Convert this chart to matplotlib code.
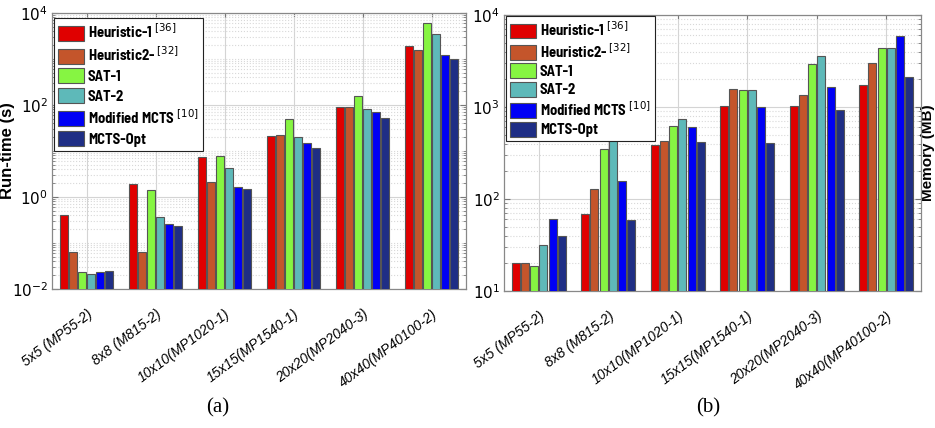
import numpy as np
import matplotlib
matplotlib.use("Agg")
import matplotlib.pyplot as plt
from matplotlib.ticker import LogLocator, NullFormatter, FixedLocator

categories = ["5x5 (MP55-2)", "8x8 (M815-2)", "10x10(MP1020-1)",
              "15x15(MP1540-1)", "20x20(MP2040-3)", "40x40(MP40100-2)"]
methods = ["Heuristic-1 $^{[36]}$", "Heuristic2- $^{[32]}$", "SAT-1", "SAT-2",
           "Modified MCTS $^{[10]}$", "MCTS-Opt"]
colors = ["#E00000", "#C4552B", "#86F542", "#5EB9B9", "#0000F5", "#1F2E85"]

# Run-time (s)
runtime = [
    [0.41, 1.87, 7.4, 21.7, 89, 1960],
    [0.063, 0.065, 2.1, 22.8, 89, 1600],
    [0.023, 1.39, 7.9, 50.5, 158, 5970],
    [0.021, 0.37, 4.2, 20.3, 80.5, 3560],
    [0.024, 0.26, 1.62, 14.6, 71.8, 1250],
    [0.025, 0.24, 1.49, 11.7, 51.5, 990],
]
# Memory (MB)
memory = [
    [20.3, 69.3, 386, 1016, 1016, 1740],
    [20.3, 127, 424, 1570, 1340, 3030],
    [18.8, 347, 617, 1530, 2930, 4340],
    [31.9, 434, 741, 1542, 3550, 4340],
    [60.6, 157, 611, 991, 1637, 5910],
    [40, 59, 417, 410, 920, 2120],
]
runtime_ticks = [1e-2, 1e0, 1e2, 1e4]
memory_ticks = [1e1, 1e2, 1e3, 1e4]

W, H = 935, 428
fig = plt.figure(figsize=(W / 100, H / 100), dpi=100)

def px_axes(x0, x1, ytop, ybot):
    return fig.add_axes([x0 / W, 1 - ybot / H, (x1 - x0) / W, (ybot - ytop) / H])

ax1 = px_axes(52, 466, 13, 289)
ax2 = px_axes(504, 921, 15, 291)

sans = ["Liberation Sans", "DejaVu Sans"]
cond = ["Barlow Semi Condensed", "Liberation Sans", "DejaVu Sans"]

def draw(ax, data, ylim, ticks, legend_top, spacing):
    x = np.arange(1, len(categories) + 1)
    pitch = 0.133
    width = 0.116
    n = len(methods)
    for i, m in enumerate(methods):
        off = (i - (n - 1) / 2) * pitch
        ax.bar(x + off, data[i], width=width, color=colors[i],
               edgecolor="#555555", linewidth=0.8, label=m, zorder=3)
    ax.set_yscale("log")
    ax.set_ylim(*ylim)
    ax.set_xlim(0.5, len(categories) + 0.5)
    ax.set_xticks(x)
    ax.set_xticklabels(categories, rotation=37, ha="right",
                       rotation_mode="anchor", fontsize=10, style="italic",
                       family=sans)
    ax.yaxis.set_major_locator(FixedLocator(ticks))
    ax.yaxis.set_minor_locator(LogLocator(base=10, subs=np.arange(1, 10), numticks=30))
    ax.yaxis.set_minor_formatter(NullFormatter())
    ax.grid(True, which="major", color="#d4d4d4", linewidth=0.8, zorder=0)
    ax.grid(True, which="minor", axis="y", color="#d8d8d8", linestyle=":",
            linewidth=0.8, zorder=0)
    ax.tick_params(axis="both", which="both", direction="in", top=True,
                   right=True, color="#777777")
    ax.tick_params(axis="x", which="major", length=3, pad=13)
    ax.tick_params(axis="y", which="major", length=4, labelsize=11, pad=3)
    ax.tick_params(axis="y", which="minor", length=2)
    for s in ax.spines.values():
        s.set_color("#888888")
        s.set_linewidth(0.9)
    leg = ax.legend(loc="upper left", bbox_to_anchor=(0.004, legend_top),
                    prop={"family": cond, "weight": "bold", "size": 10.5},
                    fancybox=False, edgecolor="#222222", framealpha=1,
                    handlelength=1.8, handleheight=1.2, labelspacing=spacing,
                    handletextpad=0.25, borderpad=0.3, borderaxespad=0.0)
    leg.get_frame().set_linewidth(0.8)
    leg.set_zorder(5)

draw(ax1, runtime, (1e-2, 1e4), runtime_ticks, 0.982, 0.3)
draw(ax2, memory, (1e1, 1e4), memory_ticks, 0.997, 0.2)

ax1.set_ylabel("Run-time (s)", fontsize=12, fontweight="bold", family=sans)
ax1.yaxis.set_label_coords(-0.089, 0.5)
ax2.yaxis.set_label_position("right")
ax2.set_ylabel("Memory (MB)", fontsize=11, fontweight="bold", family=sans,
               rotation=90, va="center")
ax2.yaxis.set_label_coords(1.017, 0.5)

fig.text(218 / W, 1 - 408 / H, "(a)", ha="center", va="center",
         fontsize=15, family=["Liberation Serif", "DejaVu Serif"])
fig.text(708 / W, 1 - 408 / H, "(b)", ha="center", va="center",
         fontsize=15, family=["Liberation Serif", "DejaVu Serif"])

fig.savefig("out.png", dpi=100, facecolor="white")
